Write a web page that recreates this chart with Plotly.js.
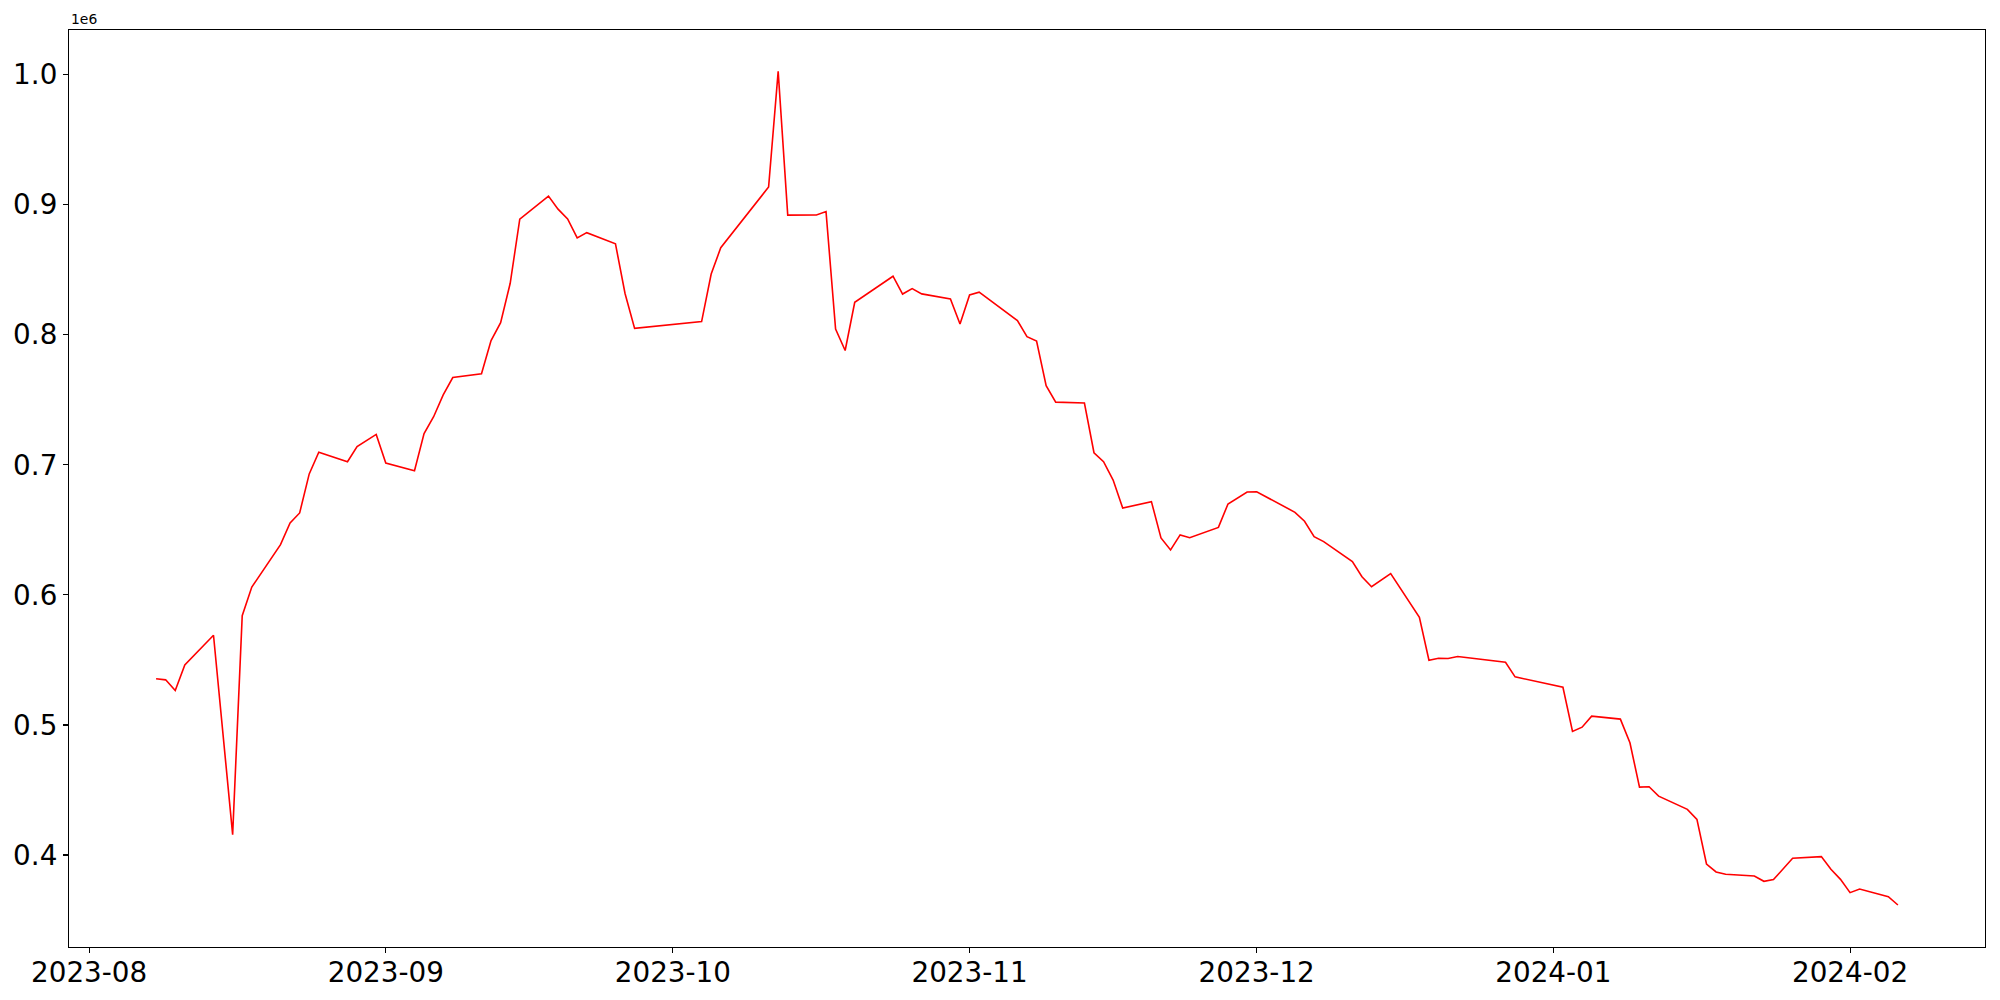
<!DOCTYPE html>
<html>
<head>
<meta charset="utf-8">
<script src="https://cdn.plot.ly/plotly-3.0.1.min.js"></script>
<style>
  html, body { margin: 0; padding: 0; background: #ffffff; }
  #chart { width: 2000px; height: 1000px; }
</style>
</head>
<body>
<div id="chart"></div>
<script>
// Trading dates
const dates = [
  "2023-08-08","2023-08-09","2023-08-10","2023-08-11","2023-08-14","2023-08-16","2023-08-17","2023-08-18",
  "2023-08-21","2023-08-22","2023-08-23","2023-08-24","2023-08-25","2023-08-28","2023-08-29","2023-08-31",
  "2023-09-01","2023-09-04","2023-09-05","2023-09-06","2023-09-07","2023-09-08","2023-09-11","2023-09-12",
  "2023-09-13","2023-09-14","2023-09-15","2023-09-18","2023-09-19","2023-09-20","2023-09-21","2023-09-22",
  "2023-09-25","2023-09-26","2023-09-27","2023-10-04","2023-10-05","2023-10-06","2023-10-11","2023-10-12",
  "2023-10-13","2023-10-16","2023-10-17","2023-10-18","2023-10-19","2023-10-20","2023-10-24","2023-10-25",
  "2023-10-26","2023-10-27","2023-10-30","2023-10-31","2023-11-01","2023-11-02","2023-11-06","2023-11-07",
  "2023-11-08","2023-11-09","2023-11-10","2023-11-13","2023-11-14","2023-11-15","2023-11-16","2023-11-17",
  "2023-11-20","2023-11-21","2023-11-22","2023-11-23","2023-11-24","2023-11-27","2023-11-28","2023-11-30",
  "2023-12-01","2023-12-04","2023-12-05","2023-12-06","2023-12-07","2023-12-08","2023-12-11","2023-12-12",
  "2023-12-13","2023-12-15","2023-12-18","2023-12-19","2023-12-20","2023-12-21","2023-12-22","2023-12-27",
  "2023-12-28","2024-01-02","2024-01-03","2024-01-04","2024-01-05","2024-01-08","2024-01-09","2024-01-10",
  "2024-01-11","2024-01-12","2024-01-15","2024-01-16","2024-01-17","2024-01-18","2024-01-19","2024-01-22",
  "2024-01-23","2024-01-24","2024-01-25","2024-01-26","2024-01-29","2024-01-30","2024-01-31","2024-02-01",
  "2024-02-02","2024-02-05","2024-02-06"
];

// Series values (raw units; axis shows them scaled by 1e6)
const values = [
  535500, 534700, 526500, 546200, 569000, 415700, 584000, 606000,
  638600, 655300, 663000, 693000, 709700, 702400, 714100, 723400,
  701400, 695500, 724000, 737000, 753800, 767100, 770000, 795500,
  809300, 839600, 888800, 906600, 896600, 889000, 874400, 878500,
  869900, 831700, 804900, 810100, 846700, 866900, 913600, 1002500,
  892000, 892100, 894700, 804300, 787900, 825000, 845000, 831300,
  835500, 831400, 827600, 808200, 830600, 832700, 810900, 798500,
  795100, 760900, 748200, 747500, 709300, 702400, 688300, 666800,
  671700, 643800, 634600, 646100, 644000, 651900, 669900, 679100,
  679300, 667000, 663500, 656600, 644800, 641000, 625700, 614000,
  606300, 616400, 582700, 549800, 551300, 551100, 552600, 548200,
  537000, 529000, 495000, 498300, 506800, 504500, 486300, 452200,
  452500, 445300, 435100, 427400, 393100, 387000, 385200, 383900,
  379800, 381100, 389000, 397500, 398800, 389000, 381300, 371100,
  373900, 368000, 361600
];

// Tick labels
const yTickVals = [400000, 500000, 600000, 700000, 800000, 900000, 1000000];
const yTickText = ["0.4", "0.5", "0.6", "0.7", "0.8", "0.9", "1.0"];
const xTickVals = ["2023-08-01","2023-09-01","2023-10-01","2023-11-01","2023-12-01","2024-01-01","2024-02-01"];
const xTickText = ["2023-08","2023-09","2023-10","2023-11","2023-12","2024-01","2024-02"];
const offsetLabel = "1e6";

const font = "DejaVu Sans, sans-serif";

const trace = {
  x: dates,
  y: values,
  type: "scatter",
  mode: "lines",
  line: { color: "#ff0000", width: 1.6 },
  hoverinfo: "x+y"
};

const layout = {
  width: 2000,
  height: 1000,
  margin: { l: 69, r: 15, t: 30, b: 53, pad: 0 },
  paper_bgcolor: "#ffffff",
  plot_bgcolor: "#ffffff",
  showlegend: false,
  font: { family: font, color: "#000000", size: 28 },
  xaxis: {
    type: "date",
    range: ["2023-07-29 21:36", "2024-02-15 02:24"],
    tickvals: xTickVals,
    ticktext: xTickText,
    showgrid: false,
    zeroline: false,
    showline: true,
    mirror: true,
    linecolor: "#000000",
    linewidth: 1.1,
    ticks: "outside",
    ticklen: 5,
    tickwidth: 1.1,
    tickcolor: "#000000",
    ticklabelstandoff: -4,
    tickfont: { family: font, size: 27.8, color: "#000000" },
    automargin: false
  },
  yaxis: {
    range: [329300, 1034300],
    tickvals: yTickVals,
    ticktext: yTickText,
    showgrid: false,
    zeroline: false,
    showline: true,
    mirror: true,
    linecolor: "#000000",
    linewidth: 1.1,
    ticks: "outside",
    ticklen: 5,
    tickwidth: 1.1,
    tickcolor: "#000000",
    tickfont: { family: font, size: 27.8, color: "#000000" },
    automargin: false
  },
  annotations: [{
    text: offsetLabel,
    xref: "paper", yref: "paper",
    x: 0, y: 1,
    xanchor: "left", yanchor: "bottom",
    yshift: 1,
    showarrow: false,
    font: { family: font, size: 13.9, color: "#000000" }
  }]
};

Plotly.newPlot("chart", [trace], layout, { displayModeBar: false, staticPlot: true });
</script>
</body>
</html>
